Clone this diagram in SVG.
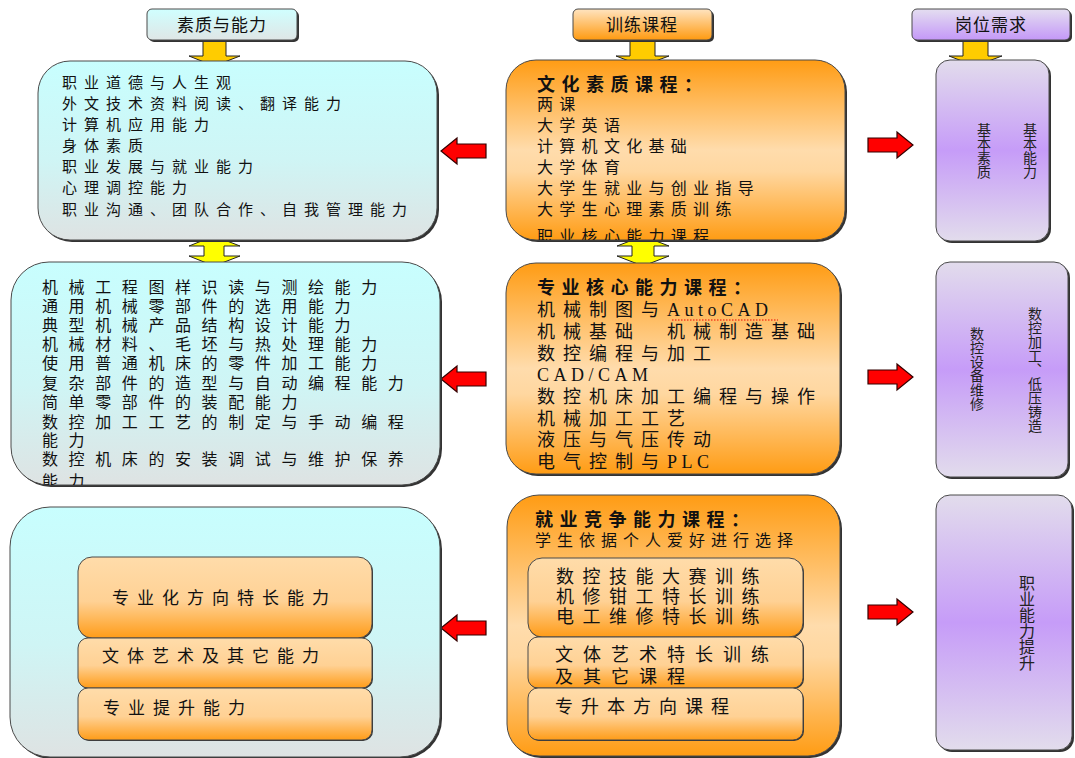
<svg xmlns="http://www.w3.org/2000/svg" width="1075" height="758" viewBox="0 0 1075 758">
<style>
text{font-family:"Noto Sans CJK SC","Noto Sans CJK TC",sans-serif;fill:#111}
.box{stroke:#4a4a4a;stroke-width:1}
.shadow{fill:#333}
.hd{font-size:17px;text-anchor:middle;letter-spacing:1px}
.t15{font-size:15px;letter-spacing:7px}
.t16{font-size:16px;letter-spacing:6.3px}
.t17{font-size:16px;letter-spacing:10.6px}
.t18{font-size:18px;letter-spacing:8px}
.ti{font-size:18px;font-weight:bold;letter-spacing:6.5px}
.in{font-size:17px;letter-spacing:8px}
.lat{font-family:"Liberation Serif",serif;letter-spacing:4.5px}
.v{font-size:14px;fill:#222;writing-mode:vertical-rl}
.v16{font-size:16px;fill:#222;writing-mode:vertical-rl}
.red{fill:#ff0000;stroke:#300;stroke-width:1.2}
.yel{fill:#ffcc00;stroke:#222;stroke-width:1}
.yel2{fill:#ffff00;stroke:#222;stroke-width:1}
</style>
<defs>
<linearGradient id="gC" x1="0" y1="0" x2="0" y2="1"><stop offset="0" stop-color="#c8fefe"/><stop offset="0.55" stop-color="#cff5f5"/><stop offset="1" stop-color="#dee3e3"/></linearGradient>
<linearGradient id="gO" x1="0" y1="0" x2="0" y2="1"><stop offset="0" stop-color="#ff9c14"/><stop offset="0.5" stop-color="#ffdcac"/><stop offset="0.62" stop-color="#ffd7a0"/><stop offset="1" stop-color="#ff9c14"/></linearGradient>
<linearGradient id="gOi" x1="0" y1="0" x2="0" y2="1"><stop offset="0" stop-color="#ffdcaa"/><stop offset="0.55" stop-color="#ffd194"/><stop offset="1" stop-color="#ff9c18"/></linearGradient>
<linearGradient id="gP" x1="0" y1="0" x2="0" y2="1"><stop offset="0" stop-color="#e2dcec"/><stop offset="0.5" stop-color="#c69cf8"/><stop offset="1" stop-color="#e2dcec"/></linearGradient>
<linearGradient id="hC" x1="0" y1="0" x2="0" y2="1"><stop offset="0" stop-color="#d0ffff"/><stop offset="1" stop-color="#dfe6e6"/></linearGradient>
<linearGradient id="hO" x1="0" y1="0" x2="0" y2="1"><stop offset="0" stop-color="#ffe4c0"/><stop offset="1" stop-color="#ff9a10"/></linearGradient>
<linearGradient id="hP" x1="0" y1="0" x2="0" y2="1"><stop offset="0" stop-color="#e4def0"/><stop offset="1" stop-color="#c498f8"/></linearGradient>
<path id="rar" d="M-22,-7 H7 V-13 L23,0 L7,13 V7 H-22 Z"/>
<clipPath id="cM1"><rect x="506" y="60" width="339" height="180" rx="30"/></clipPath>
<clipPath id="cL2"><rect x="11" y="262" width="429" height="223" rx="38"/></clipPath>
</defs>

<g id="connectors">
<path class="yel" d="M203,40 H226 V56 H240 L214,66 L189,56 H203 Z"/>
<path class="yel" d="M630,40 H655 V56 H669 L642,66 L616,56 H630 Z"/>
<path class="yel" d="M963,40 H988 V56 H1002 L975,66 L949,56 H963 Z"/>
<path class="yel2" d="M214,236 L240,246 H224 V256 H240 L214,266 L189,256 H204 V246 H189 Z"/>
<path class="yel2" d="M643,236 L669,246 H654 V256 H669 L643,266 L617,256 H632 V246 H617 Z"/>
<use href="#rar" class="red" transform="translate(464,151) scale(-1,1)"/>
<use href="#rar" class="red" transform="translate(464,379) scale(-1,1)"/>
<use href="#rar" class="red" transform="translate(464,628) scale(-1,1)"/>
<use href="#rar" class="red" transform="translate(890,145)"/>
<use href="#rar" class="red" transform="translate(890,377)"/>
<use href="#rar" class="red" transform="translate(890,612)"/>
</g>

<g id="h1"><rect class="shadow" x="149" y="11" width="150" height="31" rx="5"/><rect class="box" x="147" y="9" width="150" height="31" rx="5" fill="url(#hC)"/><text class="hd" x="222" y="31">素质与能力</text></g>
<g id="h2"><rect class="shadow" x="575" y="11" width="139" height="31" rx="5"/><rect class="box" x="573" y="9" width="139" height="31" rx="5" fill="url(#hO)"/><text class="hd" x="642" y="31">训练课程</text></g>
<g id="h3"><rect class="shadow" x="914" y="11" width="158" height="31" rx="5"/><rect class="box" x="912" y="9" width="158" height="31" rx="5" fill="url(#hP)"/><text class="hd" x="991" y="31">岗位需求</text></g>

<g id="L1">
<rect class="shadow" x="40" y="63" width="399" height="179" rx="32"/>
<rect class="box" x="38" y="61" width="399" height="179" rx="32" fill="url(#gC)"/>
<text class="t15" x="62" y="88">职业道德与人生观</text>
<text class="t15" x="62" y="109">外文技术资料阅读、翻译能力</text>
<text class="t15" x="62" y="130">计算机应用能力</text>
<text class="t15" x="62" y="151">身体素质</text>
<text class="t15" x="62" y="172">职业发展与就业能力</text>
<text class="t15" x="62" y="193">心理调控能力</text>
<text class="t15" x="62" y="215">职业沟通、团队合作、自我管理能力</text>
</g>

<g id="M1">
<rect class="shadow" x="508" y="62" width="339" height="180" rx="30"/>
<rect class="box" x="506" y="60" width="339" height="180" rx="30" fill="url(#gO)"/>
<g clip-path="url(#cM1)">
<text class="ti" x="537" y="91">文化素质课程：</text>
<text class="t16" x="537" y="110">两课</text>
<text class="t16" x="537" y="131">大学英语</text>
<text class="t16" x="537" y="152">计算机文化基础</text>
<text class="t16" x="537" y="173">大学体育</text>
<text class="t16" x="537" y="194">大学生就业与创业指导</text>
<text class="t16" x="537" y="215">大学生心理素质训练</text>
<text class="t16" x="537" y="242">职业核心能力课程</text>
</g>
</g>

<g id="R1">
<rect class="shadow" x="938" y="62" width="113" height="181" rx="14"/>
<rect class="box" x="936" y="60" width="113" height="181" rx="14" fill="url(#gP)"/>
<text class="v" x="1030" y="123">基本能力</text>
<text class="v" x="984" y="123">基本素质</text>
</g>

<g id="L2">
<rect class="shadow" x="13" y="264" width="429" height="223" rx="38"/>
<rect class="box" x="11" y="262" width="429" height="223" rx="38" fill="url(#gC)"/>
<g clip-path="url(#cL2)">
<text class="t17" x="42" y="293">机械工程图样识读与测绘能力</text>
<text class="t17" x="42" y="312">通用机械零部件的选用能力</text>
<text class="t17" x="42" y="331">典型机械产品结构设计能力</text>
<text class="t17" x="42" y="350">机械材料、毛坯与热处理能力</text>
<text class="t17" x="42" y="369">使用普通机床的零件加工能力</text>
<text class="t17" x="42" y="389">复杂部件的造型与自动编程能力</text>
<text class="t17" x="42" y="408">简单零部件的装配能力</text>
<text class="t17" x="42" y="428">数控加工工艺的制定与手动编程</text>
<text class="t17" x="42" y="446">能力</text>
<text class="t17" x="42" y="465">数控机床的安装调试与维护保养</text>
<text class="t17" x="42" y="487">能力</text>
</g>
</g>

<g id="M2">
<rect class="shadow" x="508" y="265" width="334" height="211" rx="30"/>
<rect class="box" x="506" y="263" width="334" height="211" rx="30" fill="url(#gO)"/>
<text class="ti" x="537" y="294">专业核心能力课程：</text>
<text class="t18" x="537" y="316">机械制图与<tspan class="lat">AutoCAD</tspan></text>
<line x1="672" y1="320" x2="778" y2="320" stroke="#e00" stroke-width="1" stroke-dasharray="1.5,1.5"/>
<text class="t18" x="537" y="338">机械基础　机械制造基础</text>
<text class="t18" x="537" y="360">数控编程与加工</text>
<text class="t18" x="537" y="381"><tspan class="lat">CAD/CAM</tspan></text>
<text class="t18" x="537" y="403">数控机床加工编程与操作</text>
<text class="t18" x="537" y="425">机械加工工艺</text>
<text class="t18" x="537" y="446">液压与气压传动</text>
<text class="t18" x="537" y="468">电气控制与<tspan class="lat">PLC</tspan></text>
</g>

<g id="R2">
<rect class="shadow" x="938" y="264" width="132" height="215" rx="14"/>
<rect class="box" x="936" y="262" width="132" height="215" rx="14" fill="url(#gP)"/>
<text class="v" x="1035" y="307">数控加工、低压铸造</text>
<text class="v" x="977" y="327">数控设备维修</text>
</g>

<g id="L3">
<rect class="shadow" x="12" y="509" width="430" height="250" rx="40"/>
<rect class="box" x="10" y="507" width="430" height="250" rx="40" fill="url(#gC)"/>
<g id="L3a"><rect class="shadow" x="79" y="558" width="294" height="81" rx="14"/><rect class="box" x="78" y="557" width="294" height="81" rx="14" fill="url(#gOi)"/><text class="in" x="112" y="604">专业化方向特长能力</text></g>
<g id="L3b"><rect class="shadow" x="79" y="639" width="294" height="50" rx="10"/><rect class="box" x="78" y="638" width="294" height="50" rx="10" fill="url(#gOi)"/><text class="in" x="102" y="662">文体艺术及其它能力</text></g>
<g id="L3c"><rect class="shadow" x="79" y="689" width="294" height="52" rx="10"/><rect class="box" x="78" y="688" width="294" height="52" rx="10" fill="url(#gOi)"/><text class="in" x="103" y="714">专业提升能力</text></g>
</g>

<g id="M3">
<rect class="shadow" x="509" y="497" width="333" height="261" rx="32"/>
<rect class="box" x="507" y="495" width="333" height="261" rx="32" fill="url(#gO)"/>
<text class="ti" x="535" y="526">就业竞争能力课程：</text>
<text class="t16" x="535" y="546" style="letter-spacing:6px">学生依据个人爱好进行选择</text>
<g id="M3a"><rect class="shadow" x="529" y="559" width="275" height="79" rx="14"/><rect class="box" x="528" y="558" width="275" height="79" rx="14" fill="url(#gOi)"/>
<text class="t18" x="556" y="583" style="letter-spacing:8.5px">数控技能大赛训练</text>
<text class="t18" x="556" y="603" style="letter-spacing:8.5px">机修钳工特长训练</text>
<text class="t18" x="556" y="623" style="letter-spacing:8.5px">电工维修特长训练</text></g>
<g id="M3b"><rect class="shadow" x="529" y="638" width="275" height="51" rx="10"/><rect class="box" x="528" y="637" width="275" height="51" rx="10" fill="url(#gOi)"/>
<text class="t18" x="555" y="661" style="letter-spacing:10px">文体艺术特长训练</text>
<text class="t18" x="555" y="683" style="letter-spacing:10px">及其它课程</text></g>
<g id="M3c"><rect class="shadow" x="529" y="689" width="275" height="52" rx="10"/><rect class="box" x="528" y="688" width="275" height="52" rx="10" fill="url(#gOi)"/>
<text class="t18" x="555" y="713" style="letter-spacing:8px">专升本方向课程</text></g>
</g>

<g id="R3">
<rect class="shadow" x="938" y="497" width="136" height="255" rx="14"/>
<rect class="box" x="936" y="495" width="136" height="255" rx="14" fill="url(#gP)"/>
<text class="v16" x="1027" y="575">职业能力提升</text>
</g>
</svg>
